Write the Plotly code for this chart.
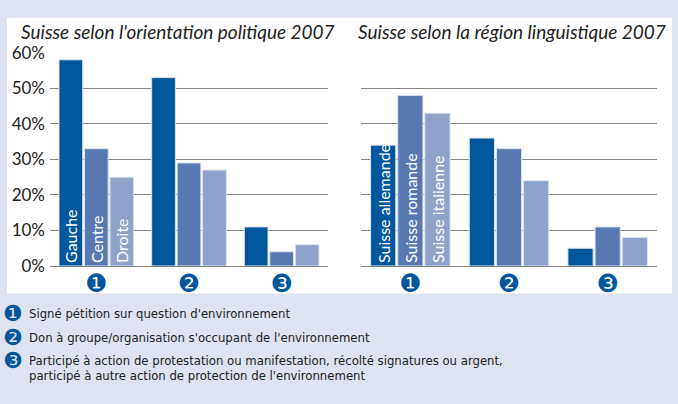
import plotly.graph_objects as go

W, H = 678, 404

categories = ["❶", "❷", "❸"]

# Left panel: political orientation
left_series = ["Gauche", "Centre", "Droite"]
left_gauche = [58, 53, 11]
left_centre = [33, 29, 4]
left_droite = [25, 27, 6]

# Right panel: linguistic region
right_series = ["Suisse allemande", "Suisse romande", "Suisse italienne"]
right_allemande = [34, 36, 5]
right_romande = [48, 33, 11]
right_italienne = [43, 24, 8]

tick_vals = [0, 10, 20, 30, 40, 50, 60]
tick_text = ["0%", "10%", "20%", "30%", "40%", "50%", "60%"]

legend_lines = [
    "Signé pétition sur question d'environnement",
    "Don à groupe/organisation s'occupant de l'environnement",
    "Participé à action de protestation ou manifestation, récolté signatures ou argent,",
    "participé à autre action de protection de l'environnement",
]

titles = ["Suisse selon l'orientation politique 2007", "Suisse selon la région linguistique 2007"]

colors = ["#00579b", "#5878b2", "#8fa2ca"]
BG = "#dfe2f0"
FONT = "Lato, DejaVu Sans, sans-serif"
NARROW = "DejaVu Sans Condensed, DejaVu Sans, sans-serif"

fig = go.Figure()

def add_panel(names, values, xa, ya):
    for i, (name, vals) in enumerate(zip(names, values)):
        fig.add_trace(go.Bar(
            x=categories, y=vals, name=name,
            marker=dict(color=colors[i], line=dict(color="#dbe3f3", width=1)),
            text=[name, "", ""], textposition="inside", insidetextanchor="start",
            textangle=-90, constraintext="none",
            textfont=dict(color="white", size=16, family=FONT),
            xaxis=xa, yaxis=ya, showlegend=False, hoverinfo="skip",
        ))

add_panel(left_series, [left_gauche, left_centre, left_droite], "x", "y")
add_panel(right_series, [right_allemande, right_romande, right_italienne], "x2", "y2")

ybot = (H - 269) / H
ytop = (H - 44) / H

yax = dict(range=[0, 60], domain=[ybot, ytop], tickvals=tick_vals,
           showgrid=True, gridcolor="#858585", gridwidth=1,
           zeroline=True, zerolinecolor="#858585", zerolinewidth=1,
           showline=False, fixedrange=True)
xax = dict(showline=False, showgrid=False, zeroline=False, ticks="", fixedrange=True,
           tickfont=dict(color="#00579b", size=25, family="DejaVu Sans"))

fig.update_layout(
    width=W, height=H,
    margin=dict(l=0, r=0, t=0, b=0),
    paper_bgcolor=BG, plot_bgcolor="rgba(0,0,0,0)",
    barmode="group", bargap=0.175, bargroupgap=0.07,
    font=dict(family=FONT, color="#222222"),
    xaxis=dict(domain=[50 / W, 328 / W], anchor="y", **xax),
    yaxis=dict(anchor="x", ticktext=tick_text, showticklabels=True,
               tickfont=dict(size=17, color="#222222", family=FONT), ticklabelstandoff=4, **yax),
    xaxis2=dict(domain=[361 / W, 657 / W], anchor="y2", **xax),
    yaxis2=dict(anchor="x2", showticklabels=False, **yax),
    shapes=[dict(type="rect", xref="paper", yref="paper",
                 x0=7 / W, x1=672 / W, y0=(H - 298) / H, y1=(H - 7) / H,
                 fillcolor="white", line=dict(width=0), layer="below")],
)

ann = []
ann.append(dict(text="<i>" + titles[0] + "</i>", x=19 / W, y=(H - 22) / H,
                xref="paper", yref="paper", xanchor="left", yanchor="middle",
                showarrow=False, font=dict(size=19, color="#222222", family=FONT)))
ann.append(dict(text="<i>" + titles[1] + "</i>", x=356 / W, y=(H - 22) / H,
                xref="paper", yref="paper", xanchor="left", yanchor="middle",
                showarrow=False, font=dict(size=19, color="#222222", family=FONT)))

line_y = [319, 344, 369, 385]
icons = ["❶", "❷", "❸", ""]
for txt, yy, ic in zip(legend_lines, line_y, icons):
    if ic:
        ann.append(dict(text=ic, x=13 / W, y=(H - yy) / H, xref="paper", yref="paper",
                        xanchor="center", yanchor="middle", showarrow=False, borderpad=0,
                        font=dict(size=22, color="#00579b", family="DejaVu Sans")))
    ann.append(dict(text=txt, x=27 / W, y=(H - yy) / H, xref="paper", yref="paper",
                    xanchor="left", yanchor="middle", showarrow=False,
                    font=dict(size=13, color="#222222", family=NARROW)))

fig.update_layout(annotations=ann)

fig.write_html("out.html", config={"displayModeBar": False},
               post_script="document.body.style.margin='0';document.body.style.background='%s';" % BG)
